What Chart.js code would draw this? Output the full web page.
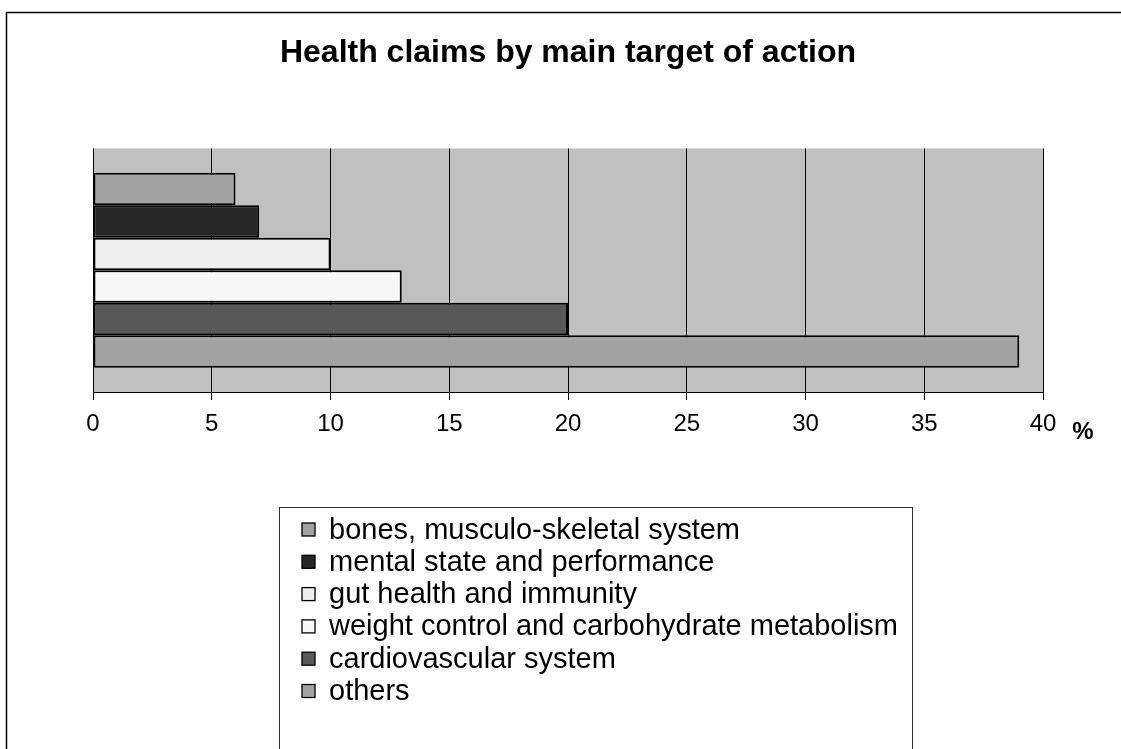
<!DOCTYPE html>
<html>
<head>
<meta charset="utf-8">
<title>Health claims by main target of action</title>
<script src="https://cdn.jsdelivr.net/npm/chart.js@4"></script>
<style>
  body { margin: 0; background: #fff; }
  canvas { display: block; }
</style>
</head>
<body>
<canvas id="claimsChart" width="1121" height="749"></canvas>
<script>
// data
const targets = [
  'bones, musculo-skeletal system',
  'mental state and performance',
  'gut health and immunity',
  'weight control and carbohydrate metabolism',
  'cardiovascular system',
  'others'
];
const shares = [6, 7, 10, 13, 20, 39];
const fills = ['#a3a3a3', '#262626', '#eeeeee', '#f8f8f8', '#585858', '#a3a3a3'];
const axisMin = 0;
const axisMax = 40;
const axisStep = 5;

const FONT = 'Arial, "Liberation Sans", sans-serif';

// gray plot area + frame round the whole picture
const backdrop = {
  id: 'backdrop',
  beforeDraw(chart) {
    const { ctx, chartArea } = chart;
    ctx.save();
    ctx.fillStyle = '#c0c0c0';
    ctx.fillRect(chartArea.left, chartArea.top, chartArea.right - chartArea.left, chartArea.bottom - chartArea.top);
    ctx.strokeStyle = '#000';
    ctx.lineWidth = 1.5;
    ctx.beginPath();
    ctx.moveTo(6.5, 760);
    ctx.lineTo(6.5, 12.5);
    ctx.lineTo(1130, 12.5);
    ctx.stroke();
    ctx.restore();
  }
};

// "%" unit and the boxed legend under the plot
const extras = {
  id: 'extras',
  afterDraw(chart) {
    const { ctx } = chart;
    const x = chart.scales.x;
    ctx.save();
    ctx.fillStyle = '#000';
    ctx.font = 'bold 24px ' + FONT;
    ctx.textAlign = 'center';
    ctx.textBaseline = 'middle';
    ctx.fillText('%', x.right + 40, 432);

    ctx.strokeStyle = '#333';
    ctx.lineWidth = 1;
    ctx.strokeRect(279.5, 507.5, 633, 300);

    ctx.font = '29px ' + FONT;
    ctx.textAlign = 'left';
    chart.data.datasets.forEach((ds, i) => {
      const cy = 529.5 + i * 32.3;
      ctx.fillStyle = ds.backgroundColor;
      ctx.fillRect(302, cy - 6.5, 13, 13);
      ctx.strokeStyle = '#000';
      ctx.lineWidth = 1.3;
      ctx.strokeRect(302, cy - 6.5, 13, 13);
      ctx.fillStyle = '#000';
      ctx.fillText(ds.label, 329, cy + 1);
    });
    ctx.restore();
  }
};

const datasets = targets.map((name, i) => ({
  label: name,
  data: [shares[i]],
  backgroundColor: fills[i],
  borderColor: '#000',
  borderWidth: 2,
  borderSkipped: false,
  categoryPercentage: 0.8,
  barPercentage: 1.0
}));

new Chart(document.getElementById('claimsChart'), {
  type: 'bar',
  data: { labels: [''], datasets: datasets },
  plugins: [backdrop, extras],
  options: {
    indexAxis: 'y',
    responsive: false,
    animation: false,
    layout: { padding: { left: 93, right: 78, top: 0, bottom: 307 } },
    plugins: {
      legend: { display: false },
      tooltip: { enabled: false },
      title: {
        display: true,
        text: 'Health claims by main target of action',
        color: '#000',
        font: { family: FONT, size: 32, weight: 'bold' },
        padding: { top: 34, bottom: 76 }
      }
    },
    scales: {
      y: { display: false },
      x: {
        min: axisMin,
        max: axisMax,
        afterFit(scale) { scale.height = 50; },
        ticks: {
          stepSize: axisStep,
          color: '#000',
          padding: 10,
          maxRotation: 0,
          font: { family: FONT, size: 24 }
        },
        grid: { color: '#000', lineWidth: 1, tickLength: 8, drawTicks: true },
        border: { display: true, color: '#000', width: 1 }
      }
    }
  }
});
</script>
</body>
</html>
